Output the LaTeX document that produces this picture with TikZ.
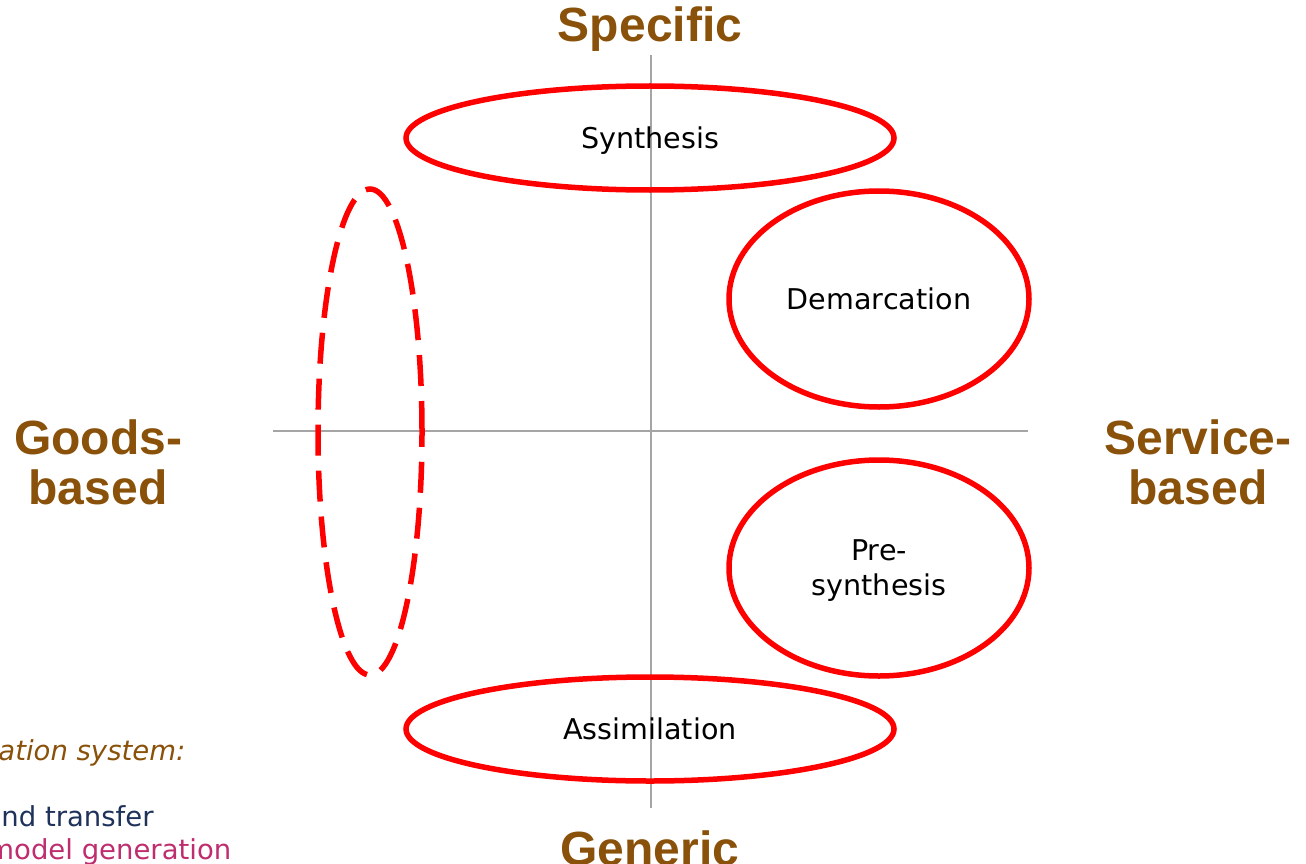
\documentclass[tikz,border=0pt]{standalone}
\usepackage{fontspec}
\setmainfont{DejaVu Sans}
\newfontfamily\headfont{Liberation Sans}
\usetikzlibrary{shapes.geometric}

\definecolor{axisbrown}{RGB}{137,81,9}
\definecolor{ringred}{RGB}{255,0,0}
\definecolor{axisgray}{RGB}{165,165,165}
\definecolor{notenavy}{RGB}{30,50,90}
\definecolor{notepink}{RGB}{190,45,110}

\begin{document}
\begin{tikzpicture}[x=1pt, y=-1pt, thick]
        \tikzstyle{phase}=[ellipse,draw=ringred,line width=5.5pt,inner sep=0pt,text depth=0pt,align=center,font=\fontsize{28.6}{35}\selectfont]
        \tikzstyle{pole}=[inner sep=0pt,align=center,text=axisbrown,font=\headfont\bfseries\fontsize{48}{50}\selectfont]
        \tikzstyle{note}=[inner sep=0pt,anchor=base west,font=\fontsize{27.5}{33}\selectfont]

        \useasboundingbox (0,0) rectangle (1306,864);

        % axes
        \coordinate (top) at (651,55);
        \coordinate (bottom) at (651,808);
        \coordinate (left) at (273,431);
        \coordinate (right) at (1028,431);
        \draw[axisgray, line width=1.5pt] (top) -- (bottom);
        \draw[axisgray, line width=1.5pt] (left) -- (right);

        % poles
        \node[pole] (specific) at (650,29) {Specific};
        \node[pole] (generic) at (650,848) {Generic};
        \node[pole] (goods) at (98,462) {Goods-\\based};
        \node[pole] (service) at (1198,462) {Service-\\based};

        % phases
        \node[phase, minimum width=488pt, minimum height=104pt] (synth) at (650,138) {Synthesis};
        \node[phase, minimum width=300pt, minimum height=216pt] (demarc) at (879,299) {Demarcation};
        \node[phase, minimum width=300pt, minimum height=216pt] (presynth) at (879,568) {Pre-\\synthesis};
        \node[phase, minimum width=488pt, minimum height=104pt] (assim) at (650,729) {Assimilation};
        \node[phase, dash pattern=on 31pt off 15pt, minimum width=104pt, minimum height=486pt] (goodsring) at (370,432) {};

        % notes cut off at the left edge
        \node[note, text=axisbrown, font=\itshape\fontsize{27.5}{33}\selectfont] (sysnote) at (-2,760) {ation system:};
        \node[note, text=notenavy] (transfer) at (1,826) {nd transfer};
        \node[note, text=notepink] (modelgen) at (-13,859) {model generation};
    \end{tikzpicture}
\end{document}
